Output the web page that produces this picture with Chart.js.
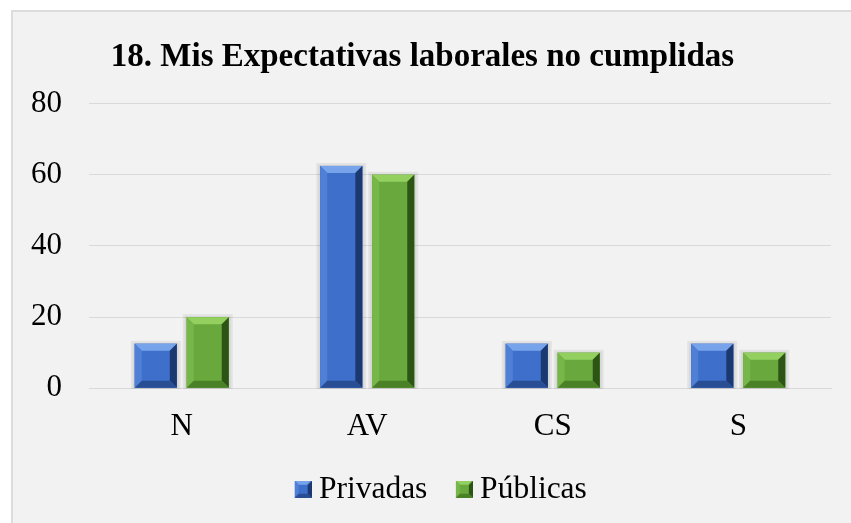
<!DOCTYPE html>
<html><head><meta charset="utf-8">
<script src="https://cdn.jsdelivr.net/npm/chart.js@4/dist/chart.umd.min.js"></script>
<style>
html,body{margin:0;padding:0;background:#fff;}
#frame{position:absolute;left:11px;top:10px;width:840px;height:513px;background:#f2f2f2;border-left:2px solid #dcdcdc;border-top:2px solid #dcdcdc;box-sizing:border-box;}
#c{display:block;}
</style></head><body>
<div id="frame"><canvas id="c" width="838" height="511"></canvas></div>
<script>
const categories = ["N", "AV", "CS", "S"];
const privadas = [12.5, 62.5, 12.5, 12.5];
const publicas = [20, 60, 10, 10];
const yTicks = [0, 20, 40, 60, 80];
const titleText = "18. Mis Expectativas laborales no cumplidas";

const palettes = [
  {face:'#3d6fcb', top:'#77a3ea', left:'#4f80d6', right:'#1c3870', bottom:'#2a4e94'},
  {face:'#69a83c', top:'#93d060', left:'#77b649', right:'#2b5415', bottom:'#4a8126'}
];

function drawBevel(ctx,l,t,w,h,p,bv){
  const r=l+w,bt=t+h;
  const b=Math.min(bv,w/2,h/2);
  ctx.fillStyle=p.face;ctx.fillRect(l,t,w,h);
  const poly=(pts,col)=>{ctx.beginPath();ctx.moveTo(pts[0][0],pts[0][1]);for(let i=1;i<pts.length;i++)ctx.lineTo(pts[i][0],pts[i][1]);ctx.closePath();ctx.fillStyle=col;ctx.fill();};
  poly([[l,t],[r,t],[r-b,t+b],[l+b,t+b]],p.top);
  poly([[l,t],[l+b,t+b],[l+b,bt-b],[l,bt]],p.left);
  poly([[r,t],[r,bt],[r-b,bt-b],[r-b,t+b]],p.right);
  poly([[l,bt],[l+b,bt-b],[r-b,bt-b],[r,bt]],p.bottom);
}
// legend icon: transparent left margin so the square sits close to its text
function legendIcon(p){
  const c=document.createElement('canvas');c.width=38;c.height=17;
  drawBevel(c.getContext('2d'),21,0,17,17,p,4);
  return c;
}

const bevelPlugin = {
  id:'bevel',
  afterLayout(chart){ chart.legend.left += 24; },
  beforeDatasetsDraw(chart){
    const ctx=chart.ctx;
    chart.data.datasets.forEach((ds,i)=>{
      chart.getDatasetMeta(i).data.forEach(el=>{
        const l=el.x-el.width/2,t=el.y,w=el.width,h=el.base-el.y;
        ctx.save();
        ctx.fillStyle='rgba(0,0,0,0.06)';
        ctx.fillRect(l-4,t-3,w+8,h+4);
        ctx.fillStyle='rgba(0,0,0,0.06)';
        ctx.fillRect(l-2,t-1,w+4,h+2);
        ctx.restore();
      });
    });
  },
  afterDatasetsDraw(chart){
    const ctx=chart.ctx;
    chart.data.datasets.forEach((ds,i)=>{
      chart.getDatasetMeta(i).data.forEach(el=>{
        const l=el.x-el.width/2,t=el.y,w=el.width,h=el.base-el.y;
        ctx.save();
        drawBevel(ctx,l,t,w,h,palettes[i],7);
        ctx.restore();
      });
    });
  }
};

new Chart(document.getElementById('c'),{
  type:'bar',
  data:{
    labels:categories,
    datasets:[
      {label:'Privadas',data:privadas,backgroundColor:palettes[0].face,pointStyle:legendIcon(palettes[0]),categoryPercentage:0.56,barPercentage:0.81},
      {label:'Públicas',data:publicas,backgroundColor:palettes[1].face,pointStyle:legendIcon(palettes[1]),categoryPercentage:0.56,barPercentage:0.81}
    ]
  },
  options:{
    responsive:false,animation:false,
    layout:{padding:{left:1,right:20,top:0,bottom:8}},
    plugins:{
      title:{display:true,text:titleText,color:'#000',font:{family:'Liberation Serif',size:33,weight:'bold'},padding:{top:26,bottom:26}},
      legend:{position:'bottom',labels:{usePointStyle:true,pointStyleWidth:21,color:'#000',font:{family:'Liberation Serif',size:31.5},padding:16}},
      tooltip:{enabled:false}
    },
    scales:{
      x:{grid:{display:false},border:{color:'#d9d9d9'},ticks:{color:'#000',font:{family:'Liberation Serif',size:31},padding:12}},
      y:{min:0,max:80,afterBuildTicks(ax){ax.ticks=yTicks.map(v=>({value:v}));},
        afterFit(ax){ax.width=75;},
        grid:{color:'#d9d9d9',drawTicks:false},border:{display:false},
        ticks:{color:'#000',font:{family:'Liberation Serif',size:31},padding:27}}
    }
  },
  plugins:[bevelPlugin]
});
</script></body></html>
